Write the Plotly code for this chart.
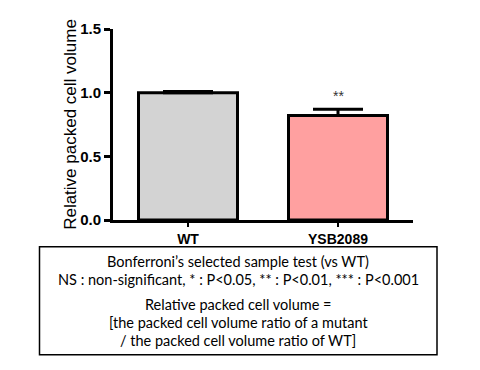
import plotly.graph_objects as go

categories = ["WT", "YSB2089"]
values = [1.0, 0.82]
errors = [0.01, 0.05]
colors = ["#D3D3D3", "#FFA0A0"]
significance = ["", "**"]
y_ticks = [0.0, 0.5, 1.0, 1.5]
y_tick_labels = ["0.0", "0.5", "1.0", "1.5"]
note_lines = [
    "Bonferroni\u2019s selected sample test (vs WT)",
    "NS : non-significant, * : P<0.05, ** : P<0.01, *** : P<0.001",
    "Relative packed cell volume =",
    "[the packed cell volume ratio of a mutant",
    "/ the packed cell volume ratio of WT]",
]

fig = go.Figure()
fig.add_trace(go.Bar(
    x=categories, y=values, width=0.66,
    marker=dict(color=colors, line=dict(color="black", width=3)),
    error_y=dict(type="data", symmetric=False, array=errors,
                 arrayminus=[0] * len(errors), color="black", thickness=3, width=25),
))

for c, v, e, s in zip(categories, values, errors, significance):
    if s:
        fig.add_annotation(x=c, y=v + e, text=s, showarrow=False, yshift=13,
                           font=dict(family="Arial", size=14, color="#333333"))

# Note box
fig.add_shape(type="rect", xref="paper", yref="paper",
              x0=(39.5 - 113) / 300, x1=(437 - 113) / 300,
              y0=(220 - 361) / 200, y1=(220 - 248) / 200,
              line=dict(color="black", width=1.5), fillcolor="rgba(0,0,0,0)")
line_y = [263, 282, 308, 327, 346]
for t, py in zip(note_lines, line_y):
    fig.add_annotation(xref="paper", yref="paper", x=(238 - 113) / 300, y=(220 - py) / 200,
                       text=t, showarrow=False, xanchor="center", yanchor="middle",
                       font=dict(family="Lato", size=14.5, color="black"))

# page has an 8px body margin; compensate so the plot area lands at x=113..413, y=20..220
fig.update_layout(
    width=472, height=362,
    margin=dict(l=105, r=67, t=12, b=150),
    paper_bgcolor="white", plot_bgcolor="white",
    showlegend=False,
    xaxis=dict(range=[-0.5, 1.5], showline=True, linecolor="black", linewidth=3,
               ticks="outside", ticklen=4, tickwidth=2, tickcolor="black",
               tickfont=dict(family="Arial", size=14, color="black"),
               showgrid=False, zeroline=False, fixedrange=True,
               tickvals=categories, ticktext=["<b>%s</b>" % c for c in categories]),
    yaxis=dict(range=[0, 1.5], showline=True, linecolor="black", linewidth=3,
               ticks="outside", ticklen=6, tickwidth=3, tickcolor="black",
               tickvals=y_ticks, ticktext=["<b>%s</b>" % t for t in y_tick_labels],
               tickfont=dict(family="Arial", size=15, color="black"),
               showgrid=False, zeroline=False,
               title=dict(text="Relative packed cell volume",
                          font=dict(family="Arial", size=17, color="black"), standoff=0)),
)

fig.write_html("out.html")
